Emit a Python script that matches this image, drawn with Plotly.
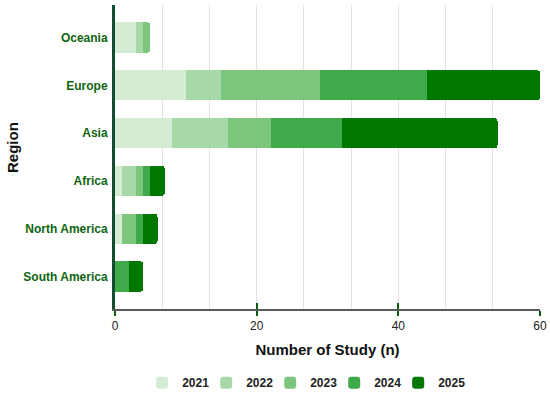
import plotly.graph_objects as go

regions = ["South America", "North America", "Africa", "Asia", "Europe", "Oceania"]
years = ["2021", "2022", "2023", "2024", "2025"]
v2021 = [0, 1, 1, 8, 10, 3]
v2022 = [0, 0, 2, 8, 5, 1]
v2023 = [0, 2, 1, 6, 14, 1]
v2024 = [2, 1, 1, 10, 15, 0]
v2025 = [2, 2, 2, 22, 16, 0]
series = [v2021, v2022, v2023, v2024, v2025]
colors = ["#d3ecd3", "#a7d8a7", "#7dc67d", "#3eaa4a", "#007800"]

FONT = "Liberation Sans, Arial, sans-serif"

fig = go.Figure()
for yr, vals, c in zip(years, series, colors):
    fig.add_trace(go.Bar(
        y=regions, x=vals, name="<b>%s</b>" % yr, orientation="h",
        marker=dict(color=c, line=dict(width=0)),
        width=0.63,
    ))

# invisible legend spacer so the last legend label is not clipped
fig.add_trace(go.Scatter(x=[None], y=[None], mode="markers", name=" ",
                         marker=dict(color="rgba(0,0,0,0)", size=1,
                                     line=dict(width=0, color="rgba(0,0,0,0)")),
                         hoverinfo="skip", showlegend=True))

# overlay axis for ticks crossing the axis line
fig.add_trace(go.Scatter(x=[0, 60], y=[None, None], xaxis="x2", yaxis="y",
                         showlegend=False, hoverinfo="skip", mode="lines"))

fig.update_layout(
    barmode="stack",
    barcornerradius=3,
    width=550, height=393,
    margin=dict(l=115, r=10, t=5, b=84),
    plot_bgcolor="white",
    paper_bgcolor="white",
    font=dict(family=FONT, size=12, color="#222"),
    xaxis=dict(
        range=[0, 60], tickvals=[0, 20, 40, 60], automargin=False,
        showgrid=True, gridcolor="#e3e3e3", gridwidth=1,
        minor=dict(dtick=20/3, tick0=0, showgrid=True, gridcolor="#e3e3e3", gridwidth=1),
        showline=True, linecolor="#5a5a5a", linewidth=2,
        ticks="outside", ticklen=5, tickwidth=2, tickcolor="#0b5e0b",
        tickfont=dict(size=12, color="#222"),
        zeroline=False,
        title=dict(text="<b>Number of Study (n)</b>", font=dict(size=15, color="#111"), standoff=12),
    ),
    xaxis2=dict(
        overlaying="x", range=[0, 60], tickvals=[0, 20, 40, 60], automargin=False,
        ticks="inside", ticklen=6, tickwidth=2, tickcolor="#0b5e0b",
        showticklabels=False, showgrid=False, zeroline=False, showline=False,
        side="bottom",
    ),
    yaxis=dict(
        range=[-0.68, 5.68], automargin=False,
        showline=True, linecolor="#124d33", linewidth=3,
        showgrid=False, zeroline=False,
        ticks="", ticklabelstandoff=2,
        tickfont=dict(size=12, color="#0f650f", family=FONT),
        tickvals=regions, ticktext=["<b>%s</b>" % r for r in regions],
    ),
    annotations=[dict(
        text="<b>Region</b>", textangle=-90, showarrow=False,
        xref="paper", yref="paper", x=(12 - 115) / 425, y=(309 - 148) / 304,
        xanchor="center", yanchor="middle",
        font=dict(size=15, color="#111", family=FONT),
    )],
    legend=dict(
        orientation="h", x=0.064, xanchor="left",
        yref="container", y=0.026, yanchor="middle",
        font=dict(size=12, color="#222"),
        traceorder="normal", entrywidth=19,
    ),
)

fig.write_html(
    "out.html",
    config={"displayModeBar": False},
    post_script="document.body.style.margin='0';document.body.style.overflow='hidden';",
)
